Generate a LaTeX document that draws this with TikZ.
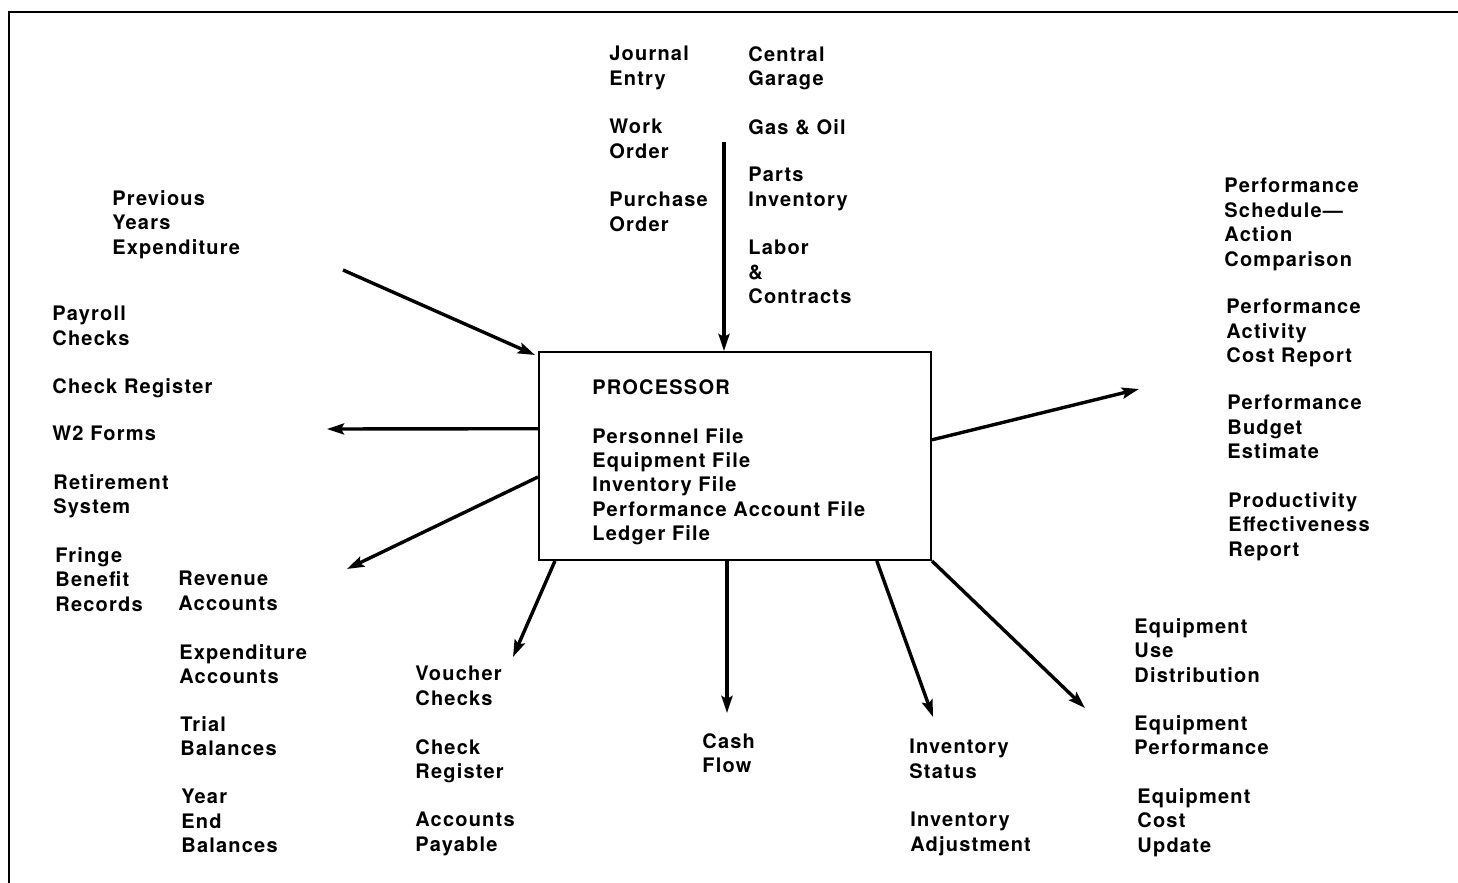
\documentclass[tikz,border=0pt]{standalone}
\usepackage{fontspec}
\setmainfont{TeX Gyre Heros}[LetterSpace=6]
\usetikzlibrary{arrows.meta,calc}
\begin{document}
\begin{tikzpicture}[x=0.5pt,y=-0.5pt,
  lbl/.style={anchor=north west,inner sep=0pt,align=left,font=\fontsize{10pt}{12.2pt}\selectfont\bfseries},
  arr/.style={line width=1.7pt,-{Stealth[length=8.5pt,width=5.5pt,inset=1.5pt]}},
  frame/.style={line width=1.2pt}]
\useasboundingbox (0,0) rectangle (1458,883);
\draw[frame] (1458,12) -- (9,12) -- (9,883);
% processor box
\node[draw,line width=1pt,minimum width=196pt,minimum height=104pt,inner sep=0pt] (proc) at (735,456) {};
\node[lbl] (proctext) at (592,379) {PROCESSOR\\[12.2pt]Personnel File\\Equipment File\\Inventory File\\Performance Account File\\Ledger File};
% top inputs
\node[lbl] (je) at (609,46) {Journal\\Entry};
\node[lbl] (wo) at (609,119) {Work\\Order};
\node[lbl] (po) at (609,192) {Purchase\\Order};
\node[lbl] (cg) at (748,46) {Central\\Garage};
\node[lbl] (go) at (748,119) {Gas \& Oil};
\node[lbl] (pi) at (748,167) {Parts\\Inventory};
\node[lbl] (lc) at (748,240) {Labor\\\&\\Contracts};
% left
\node[lbl] (pye) at (112,190) {Previous\\Years\\Expenditure};
\node[lbl] (pc) at (52,306) {Payroll\\Checks};
\node[lbl] (cr) at (52,378) {Check Register};
\node[lbl] (w2) at (52,426) {W2 Forms};
\node[lbl] (rs) at (53,474) {Retirement\\System};
\node[lbl] (fb) at (55,547) {Fringe\\Benefit\\Records};
\node[lbl] (ra) at (178,571) {Revenue\\Accounts};
\node[lbl] (ea) at (179,644) {Expenditure\\Accounts};
\node[lbl] (tb) at (180,716) {Trial\\Balances};
\node[lbl] (yeb) at (181,789) {Year\\End\\Balances};
% bottom
\node[lbl] (vc) at (415,666) {Voucher\\Checks};
\node[lbl] (cr2) at (415,739) {Check\\Register};
\node[lbl] (ap) at (415,812) {Accounts\\Payable};
\node[lbl] (cf) at (702,733) {Cash\\Flow};
\node[lbl] (is) at (909,739) {Inventory\\Status};
\node[lbl] (ia) at (910,812) {Inventory\\Adjustment};
\node[lbl] (eud) at (1134,618) {Equipment\\Use\\Distribution};
\node[lbl] (ep) at (1134,715) {Equipment\\Performance};
\node[lbl] (ecu) at (1137,788) {Equipment\\Cost\\Update};
% right
\node[lbl] (psac) at (1224,178) {Performance\\Schedule—\\Action\\Comparison};
\node[lbl] (pacr) at (1226,299) {Performance\\Activity\\Cost Report};
\node[lbl] (pbe) at (1227,395) {Performance\\Budget\\Estimate};
\node[lbl] (per) at (1228,492) {Productivity\\Effectiveness\\Report};
% free ends
\coordinate (e1) at (343,270);
\coordinate (e2) at (724,142);
\coordinate (e3) at (327,429);
\coordinate (e4) at (347,569);
\coordinate (e5) at (1139,389);
\coordinate (e6) at (513,657);
\coordinate (e7) at (727,713);
\coordinate (e8) at (933,717);
\coordinate (e9) at (1085,708);
% arrows
\draw[arr] (e1) -- ($(proc.north west)+(-3,4)$);
\draw[arr] (e2) -- (e2 |- proc.north);
\draw[arr] ($(proc.north west)!0.37!(proc.south west)$) -- (e3);
\draw[arr] ($(proc.north west)!0.60!(proc.south west)$) -- (e4);
\draw[arr] ($(proc.north east)!0.423!(proc.south east)$) -- (e5);
\draw[arr] ($(proc.south west)!0.043!(proc.south east)$) -- (e6);
\draw[arr] (e7 |- proc.south) -- (e7);
\draw[arr] ($(proc.south west)!0.86!(proc.south east)$) -- (e8);
\draw[arr] (proc.south east) -- (e9);
\end{tikzpicture}
\end{document}
